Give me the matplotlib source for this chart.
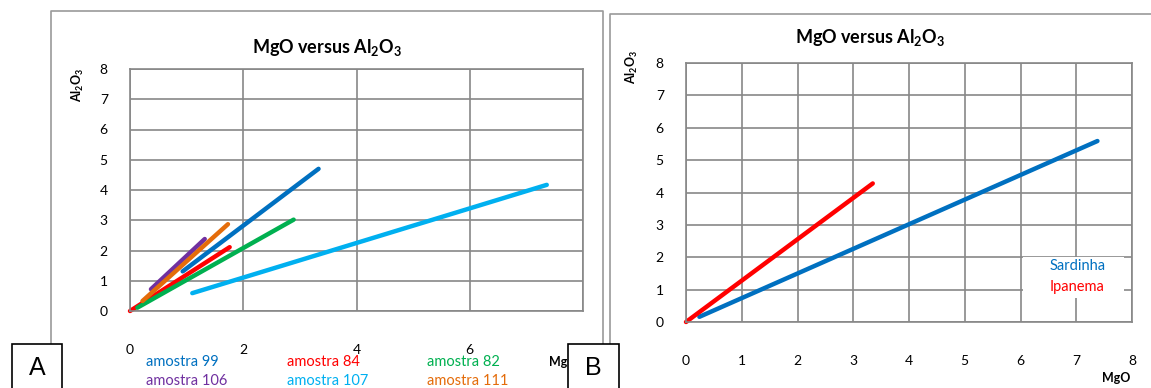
import matplotlib
matplotlib.use('Agg')
import matplotlib.pyplot as plt
from matplotlib.patches import Rectangle
from matplotlib.lines import Line2D

plt.rcParams['font.family'] = ['Lato', 'DejaVu Sans']
plt.rcParams['mathtext.fontset'] = 'custom'
plt.rcParams['mathtext.rm'] = 'Lato'
plt.rcParams['mathtext.bf'] = 'Lato:bold'
plt.rcParams['mathtext.default'] = 'bf'

W, H = 1151, 388

# panel A: amostras (start / end points of each trend line)
amostra_labels = ['amostra 99', 'amostra 84', 'amostra 82',
                  'amostra 106', 'amostra 107', 'amostra 111']
amostra_colors = ['#0070C0', '#FF0000', '#00B050', '#7030A0', '#00B0F0', '#E46C0A']
amostra_x = [[0.93, 3.33], [0.0, 1.76], [0.13, 2.89], [0.37, 1.32], [1.10, 7.36], [0.22, 1.73]]
amostra_y = [[1.31, 4.70], [0.0, 2.11], [0.11, 3.02], [0.72, 2.38], [0.59, 4.17], [0.33, 2.87]]

# panel B: praias
praia_labels = ['Sardinha', 'Ipanema']
praia_colors = ['#0070C0', '#FF0000']
praia_x = [[0.24, 7.38], [0.0, 3.35]]
praia_y = [[0.16, 5.59], [0.0, 4.28]]

grid_c = '#878787'
title = 'MgO versus Al$_2$O$_3$'


def fx(x):
    return x / W


def fy(y):
    return 1 - y / H


def make_axes(fig, l, t, r, b, xticks):
    ax = fig.add_axes([fx(l), fy(b), (r - l) / W, (b - t) / H])
    ax.set_xlim(0, 8)
    ax.set_ylim(0, 8)
    ax.set_xticks(xticks)
    ax.set_yticks(range(0, 9))
    ax.grid(True, color=grid_c, linewidth=1.2)
    for s in ax.spines.values():
        s.set_color(grid_c)
        s.set_linewidth(1.2)
    ax.tick_params(length=0, labelsize=10, colors='black')
    ax.tick_params(axis='x', pad=24)
    ax.tick_params(axis='y', pad=16)
    ax.set_axisbelow(True)
    return ax


fig = plt.figure(figsize=(W / 100, H / 100), dpi=100)

# outer chart frames
fig.lines.append(Line2D([fx(51), fx(51), fx(603), fx(603)], [fy(388), fy(11), fy(11), fy(388)],
                        color='#9a9a9a', linewidth=1.2, transform=fig.transFigure))
fig.lines.append(Line2D([fx(610), fx(610), fx(1151)], [fy(388), fy(14), fy(14)],
                        color='#9a9a9a', linewidth=1.2, transform=fig.transFigure))

# ---- panel A
axA = make_axes(fig, 130, 69, 583, 311, [0, 2, 4, 6, 8])
for xs, ys, c in zip(amostra_x, amostra_y, amostra_colors):
    axA.plot(xs, ys, color=c, linewidth=3.2, solid_capstyle='round', clip_on=False)
fig.text(fx(327), fy(47), title, ha='center', va='center', fontsize=13, fontweight='bold')
fig.text(fx(78), fy(85), 'Al$_2$O$_3$', ha='center', va='center', rotation=90,
         fontsize=9, fontweight='bold')
leg_cols = [146, 287, 427]
leg_rows = [362, 381]
for i, (lab, c) in enumerate(zip(amostra_labels, amostra_colors)):
    fig.text(fx(leg_cols[i % 3]), fy(leg_rows[i // 3]), lab, color=c, fontsize=10.5,
             ha='left', va='center')
fig.text(fx(549), fy(362), 'MgO', fontsize=9, fontweight='bold', ha='left', va='center', zorder=3)

# ---- panel B
axB = make_axes(fig, 686, 63, 1132, 322, range(0, 9))
for xs, ys, c in zip(praia_x, praia_y, praia_colors):
    axB.plot(xs, ys, color=c, linewidth=3.2, solid_capstyle='round', clip_on=False)
fig.text(fx(870), fy(37), title, ha='center', va='center', fontsize=13, fontweight='bold')
fig.text(fx(632), fy(67), 'Al$_2$O$_3$', ha='center', va='center', rotation=90,
         fontsize=9, fontweight='bold')
fig.text(fx(1116), fy(378), 'MgO', fontsize=9, fontweight='bold', ha='center', va='center')
fig.patches.append(Rectangle((fx(1023), fy(298)), 101 / W, 41 / H, facecolor='white',
                             edgecolor='none', transform=fig.transFigure, zorder=2))
for i, (lab, c) in enumerate(zip(praia_labels, praia_colors)):
    fig.text(fx(1050), fy(266 + 21 * i), lab, color=c, fontsize=10.5, ha='left', va='center',
             zorder=3)

# boxes A and B
for l, r, letter in [(12, 62, 'A'), (568, 619, 'B')]:
    fig.patches.append(Rectangle((fx(l), fy(389)), (r - l) / W, 45 / H, facecolor='white',
                                 edgecolor='black', linewidth=1.2, transform=fig.transFigure,
                                 zorder=5))
    fig.text(fx((l + r) / 2), fy(368), letter, fontsize=18, ha='center', va='center',
             family=['Liberation Sans', 'DejaVu Sans'], zorder=6)

fig.savefig('out.png', dpi=100)
